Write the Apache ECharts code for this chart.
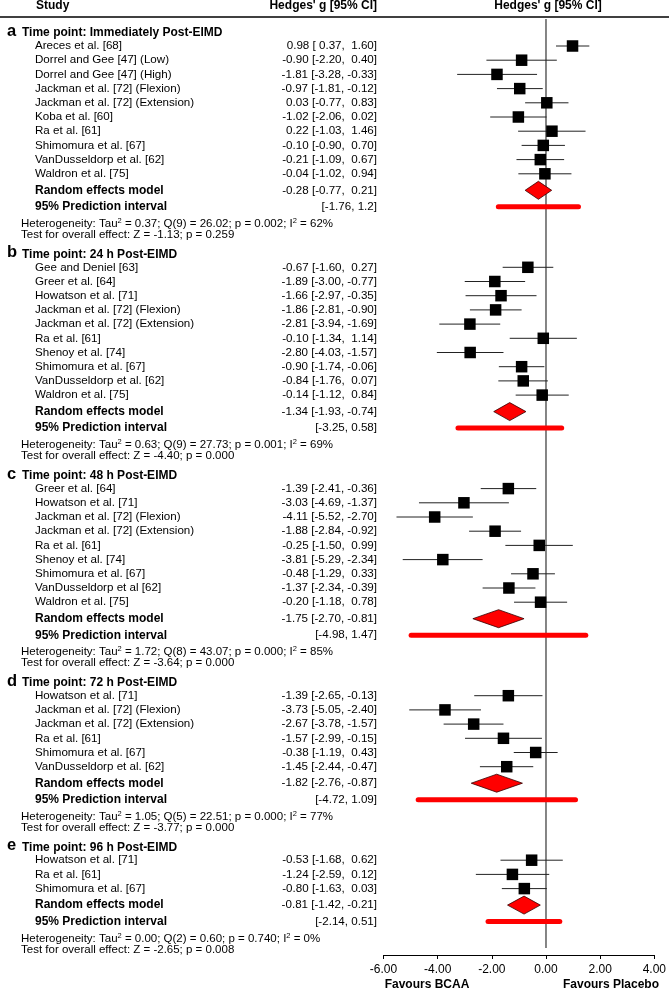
<!DOCTYPE html>
<html><head><meta charset="utf-8">
<script src="https://cdn.jsdelivr.net/npm/echarts@6/dist/echarts.min.js"></script>
<style>html,body{margin:0;padding:0;background:#fff}#c{width:669px;height:991px}</style>
</head><body><div id="c"></div><script>
const FONT = '"Liberation Sans", Arial, Helvetica, sans-serif';

// ---- data ----
const sectionLetters = ['a', 'b', 'c', 'd', 'e'];
const sectionTitles = ['Time point: Immediately Post-EIMD', 'Time point: 24 h Post-EIMD',
  'Time point: 48 h Post-EIMD', 'Time point: 72 h Post-EIMD', 'Time point: 96 h Post-EIMD'];

const namesA = ['Areces et al. [68]', 'Dorrel and Gee [47] (Low)', 'Dorrel and Gee [47] (High)',
  'Jackman et al. [72] (Flexion)', 'Jackman et al. [72] (Extension)', 'Koba et al. [60]', 'Ra et al. [61]',
  'Shimomura et al. [67]', 'VanDusseldorp et al. [62]', 'Waldron et al. [75]'];
const gA  = [0.98, -0.90, -1.81, -0.97, 0.03, -1.02, 0.22, -0.10, -0.21, -0.04];
const loA = [0.37, -2.20, -3.28, -1.81, -0.77, -2.06, -1.03, -0.90, -1.09, -1.02];
const hiA = [1.60, 0.40, -0.33, -0.12, 0.83, 0.02, 1.46, 0.70, 0.67, 0.94];

const namesB = ['Gee and Deniel [63]', 'Greer et al. [64]', 'Howatson et al. [71]',
  'Jackman et al. [72] (Flexion)', 'Jackman et al. [72] (Extension)', 'Ra et al. [61]', 'Shenoy et al. [74]',
  'Shimomura et al. [67]', 'VanDusseldorp et al. [62]', 'Waldron et al. [75]'];
const gB  = [-0.67, -1.89, -1.66, -1.86, -2.81, -0.10, -2.80, -0.90, -0.84, -0.14];
const loB = [-1.60, -3.00, -2.97, -2.81, -3.94, -1.34, -4.03, -1.74, -1.76, -1.12];
const hiB = [0.27, -0.77, -0.35, -0.90, -1.69, 1.14, -1.57, -0.06, 0.07, 0.84];

const namesC = ['Greer et al. [64]', 'Howatson et al. [71]', 'Jackman et al. [72] (Flexion)',
  'Jackman et al. [72] (Extension)', 'Ra et al. [61]', 'Shenoy et al. [74]', 'Shimomura et al. [67]',
  'VanDusseldorp et al [62]', 'Waldron et al. [75]'];
const gC  = [-1.39, -3.03, -4.11, -1.88, -0.25, -3.81, -0.48, -1.37, -0.20];
const loC = [-2.41, -4.69, -5.52, -2.84, -1.50, -5.29, -1.29, -2.34, -1.18];
const hiC = [-0.36, -1.37, -2.70, -0.92, 0.99, -2.34, 0.33, -0.39, 0.78];

const namesD = ['Howatson et al. [71]', 'Jackman et al. [72] (Flexion)', 'Jackman et al. [72] (Extension)',
  'Ra et al. [61]', 'Shimomura et al. [67]', 'VanDusseldorp et al. [62]'];
const gD  = [-1.39, -3.73, -2.67, -1.57, -0.38, -1.45];
const loD = [-2.65, -5.05, -3.78, -2.99, -1.19, -2.44];
const hiD = [-0.13, -2.40, -1.57, -0.15, 0.43, -0.47];

const namesE = ['Howatson et al. [71]', 'Ra et al. [61]', 'Shimomura et al. [67]'];
const gE  = [-0.53, -1.24, -0.80];
const loE = [-1.68, -2.59, -1.63];
const hiE = [0.62, 0.12, 0.03];

const reG  = [-0.28, -1.34, -1.75, -1.82, -0.81];
const reLo = [-0.77, -1.93, -2.70, -2.76, -1.42];
const reHi = [0.21, -0.74, -0.81, -0.87, -0.21];
const piLo = [-1.76, -3.25, -4.98, -4.72, -2.14];
const piHi = [1.2, 0.58, 1.47, 1.09, 0.51];

const tau2 = ['0.37', '0.63', '1.72', '1.05', '0.00'];
const qDf  = ['9', '9', '8', '5', '2'];
const qVal = ['26.02', '27.73', '43.07', '22.51', '0.60'];
const qP   = ['0.002', '0.001', '0.000', '0.000', '0.740'];
const i2   = ['62', '69', '85', '77', '0'];
const zVal = ['-1.13', '-4.40', '-3.64', '-3.77', '-2.65'];
const zP   = ['0.259', '0.000', '0.000', '0.000', '0.008'];

const xTicks = [-6, -4, -2, 0, 2, 4];

// ---- layout (pixel rows, used as y-axis values) ----
const L = { firstHeader: 33, hdrToStudy: 13, step: 14.2, toRandom: 16.5, toPred: 16.5, toHet: 17, toTest: 11, toNext: 19.5 };
const sections = [
  { names: namesA, g: gA, lo: loA, hi: hiA },
  { names: namesB, g: gB, lo: loB, hi: hiB },
  { names: namesC, g: gC, lo: loC, hi: hiC },
  { names: namesD, g: gD, lo: loD, hi: hiD },
  { names: namesE, g: gE, lo: loE, hi: hiE }
];
const studyData = [], sumData = [], predData = [], headData = [], hetData = [];
let yCur = L.firstHeader;
sections.forEach((s, k) => {
  headData.push({ value: [0, yCur], k: k });
  let yy = yCur + L.hdrToStudy;
  s.names.forEach((n, i) => { studyData.push({ value: [s.g[i], s.lo[i], s.hi[i], yy], label: n }); yy += L.step; });
  yy -= L.step;
  const yr = yy + L.toRandom;
  sumData.push({ value: [reG[k], reLo[k], reHi[k], yr] });
  const yp = yr + L.toPred;
  predData.push({ value: [piLo[k], piHi[k], yp] });
  const yh = yp + L.toHet, yt = yh + L.toTest;
  hetData.push({ value: [0, yh, yt], k: k });
  yCur = yt + L.toNext;
});

const f2 = v => v.toFixed(2);
const f2p = v => (v >= 0 ? ' ' : '') + v.toFixed(2);
const NAME_X = 35, NUM_X = 377, HDR_X = 22, LET_X = 7, HET_X = 21;
const FS = 11.6;

function txt(x, y, text, opt) {
  return { type: 'text', silent: true, style: Object.assign({
    x: x, y: y, text: text, fill: '#000', fontSize: FS, fontFamily: FONT,
    align: 'left', verticalAlign: 'middle' }, opt || {}) };
}

function renderStudy(params, api) {
  const g = api.value(0), lo = api.value(1), hi = api.value(2), y = api.value(3);
  const pL = api.coord([lo, y]), pH = api.coord([hi, y]), pG = api.coord([g, y]);
  const d = studyData[params.dataIndex];
  return { type: 'group', children: [
    { type: 'line', shape: { x1: pL[0], y1: pL[1], x2: pH[0], y2: pH[1] }, style: { stroke: '#222', lineWidth: 1 } },
    { type: 'rect', shape: { x: pG[0] - 5.75, y: pG[1] - 5.75, width: 11.5, height: 11.5 }, style: { fill: '#000' } },
    txt(NAME_X, pG[1], d.label),
    txt(NUM_X, pG[1], f2(g) + ' [' + f2p(lo) + ', ' + f2p(hi) + ']', { align: 'right' })
  ] };
}
function renderSum(params, api) {
  const g = api.value(0), lo = api.value(1), hi = api.value(2), y = api.value(3);
  const pL = api.coord([lo, y]), pH = api.coord([hi, y]), pG = api.coord([g, y]);
  const h = 9;
  return { type: 'group', children: [
    { type: 'polygon', shape: { points: [[pL[0], pL[1]], [pG[0], pG[1] - h], [pH[0], pH[1]], [pG[0], pG[1] + h]] },
      style: { fill: '#ff0000', stroke: '#300', lineWidth: 0.8 } },
    txt(NAME_X, pG[1], 'Random effects model', { fontWeight: 'bold', fontSize: 12 }),
    txt(NUM_X, pG[1], f2(g) + ' [' + f2p(lo) + ', ' + f2p(hi) + ']', { align: 'right' })
  ] };
}
function renderPred(params, api) {
  const lo = api.value(0), hi = api.value(1), y = api.value(2);
  const pL = api.coord([lo, y]), pH = api.coord([hi, y]);
  return { type: 'group', children: [
    { type: 'line', shape: { x1: pL[0], y1: pL[1], x2: pH[0], y2: pH[1] }, style: { stroke: '#ff0000', lineWidth: 5, lineCap: 'round' } },
    txt(NAME_X, pL[1], '95% Prediction interval', { fontWeight: 'bold', fontSize: 12 }),
    txt(NUM_X, pL[1], '[' + String(lo) + ', ' + String(hi) + ']', { align: 'right' })
  ] };
}
function renderHead(params, api) {
  const k = headData[params.dataIndex].k;
  const p = api.coord([0, api.value(1)]);
  return { type: 'group', children: [
    txt(LET_X, p[1] - 1.5, sectionLetters[k], { fontWeight: 'bold', fontSize: 16.5 }),
    txt(HDR_X, p[1], sectionTitles[k], { fontWeight: 'bold', fontSize: 12 })
  ] };
}
function renderHet(params, api) {
  const k = hetData[params.dataIndex].k;
  const ph = api.coord([0, api.value(1)]), pt = api.coord([0, api.value(2)]);
  const sup = { fontSize: 7.5, fontFamily: FONT, fill: '#000', verticalAlign: 'top', lineHeight: 7 };
  return { type: 'group', children: [
    txt(HET_X, ph[1], 'Heterogeneity: Tau{s|2} = ' + tau2[k] + '; Q(' + qDf[k] + ') = ' + qVal[k] + '; p = ' + qP[k] + '; I{s|2} = ' + i2[k] + '%',
      { fontSize: 11.5, lineHeight: 14, rich: { s: sup } }),
    txt(HET_X, pt[1], 'Test for overall effect: Z = ' + zVal[k] + '; p = ' + zP[k], { fontSize: 11.5 })
  ] };
}

const chart = echarts.init(document.getElementById('c'), null, { renderer: 'canvas' });
chart.setOption({
  animation: false,
  backgroundColor: '#fff',
  grid: { left: 383.5, width: 274.5, top: 0, height: 955, containLabel: false },
  xAxis: {
    type: 'value', min: -6, max: 4, interval: 2, position: 'bottom',
    axisLine: { show: true, onZero: false, lineStyle: { color: '#000', width: 1 } },
    axisTick: { show: true, length: 4, lineStyle: { color: '#000', width: 1 } },
    axisLabel: { color: '#000', fontSize: 12, fontFamily: FONT, margin: 9, formatter: v => v.toFixed(2) },
    splitLine: { show: false }
  },
  yAxis: { type: 'value', min: 0, max: 955, inverse: true, show: false },
  graphic: [
    { type: 'line', silent: true, shape: { x1: 0, y1: 17, x2: 669, y2: 17 }, style: { stroke: '#000', lineWidth: 1.5 } },
    { type: 'text', silent: true, style: { x: 36, y: 6, text: 'Study', fill: '#000', fontSize: 12, fontWeight: 'bold', fontFamily: FONT, align: 'left', verticalAlign: 'middle' } },
    { type: 'text', silent: true, style: { x: 377, y: 6, text: "Hedges' g [95% CI]", fill: '#000', fontSize: 12, fontWeight: 'bold', fontFamily: FONT, align: 'right', verticalAlign: 'middle' } },
    { type: 'text', silent: true, style: { x: 548, y: 6, text: "Hedges' g [95% CI]", fill: '#000', fontSize: 12, fontWeight: 'bold', fontFamily: FONT, align: 'center', verticalAlign: 'middle' } },
    { type: 'text', silent: true, style: { x: 427, y: 985, text: 'Favours BCAA', fill: '#000', fontSize: 12, fontWeight: 'bold', fontFamily: FONT, align: 'center', verticalAlign: 'middle' } },
    { type: 'text', silent: true, style: { x: 611, y: 985, text: 'Favours Placebo', fill: '#000', fontSize: 12, fontWeight: 'bold', fontFamily: FONT, align: 'center', verticalAlign: 'middle' } }
  ],
  series: [
    { type: 'line', data: [[0, 19], [0, 948]], symbol: 'none', lineStyle: { color: '#333', width: 1.2 }, silent: true, z: 1 },
    { type: 'custom', renderItem: renderStudy, data: studyData, encode: { x: [0, 1, 2], y: 3 }, clip: false, silent: true, z: 3 },
    { type: 'custom', renderItem: renderSum, data: sumData, encode: { x: [0, 1, 2], y: 3 }, clip: false, silent: true, z: 3 },
    { type: 'custom', renderItem: renderPred, data: predData, encode: { x: [0, 1], y: 2 }, clip: false, silent: true, z: 2 },
    { type: 'custom', renderItem: renderHead, data: headData, encode: { x: 0, y: 1 }, clip: false, silent: true, z: 3 },
    { type: 'custom', renderItem: renderHet, data: hetData, encode: { x: 0, y: [1, 2] }, clip: false, silent: true, z: 3 }
  ]
});
</script></body></html>
